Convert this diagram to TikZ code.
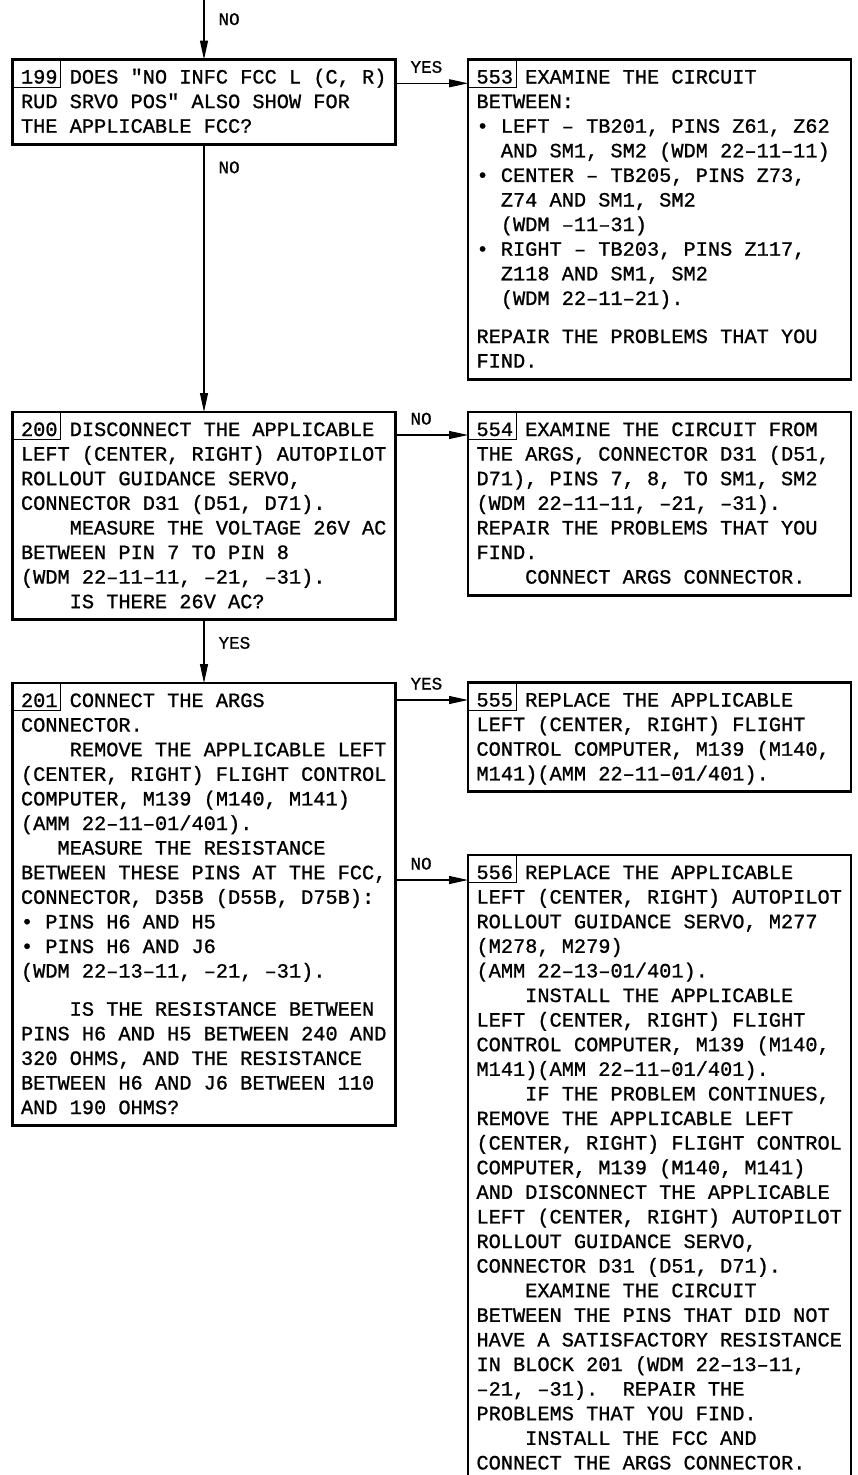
\documentclass[tikz,border=0pt]{standalone}
\usepackage{fontspec}
\newfontfamily\chartfont[FakeBold=1]{Liberation Mono}
\usetikzlibrary{arrows.meta}
% indents, in character cells of the mono font
\newcommand{\tb}{\hspace*{2.4em}}
\newcommand{\tbb}{\hspace*{1.8em}}
\newcommand{\bi}{\hspace*{1.2em}}
% one full cell for every word space
\newcommand{\cellspace}{\spaceskip=0.6em\relax\xspaceskip=0.6em\relax}

\begin{document}
\begin{tikzpicture}[
    x=1pt,
    y=-1pt,
    font=\chartfont\fontsize{20.3pt}{24.6pt}\selectfont\frenchspacing,
    block/.style={draw, line width=2.8pt, anchor=north west, outer sep=0pt, align=left, text width=366pt, inner xsep=8.5pt, inner ysep=0pt,
      execute at begin node={\cellspace\rule{0pt}{24pt}}, execute at end node={\rule[-11.5pt]{0pt}{11.5pt}}},
    numframe/.style={draw, line width=0.9pt, anchor=north west, outer sep=0pt, inner sep=0pt, minimum width=48pt, minimum height=27.5pt},
    flow/.style={-{Triangle[length=19pt,width=8pt]}, line width=1.1pt},
    lbl/.style={font=\chartfont\fontsize{17.6pt}{20pt}\selectfont, inner sep=0pt, anchor=base west},
    hlbl/.style={lbl, xshift=14.5pt, yshift=10.5pt},
    vlbl/.style={lbl, xshift=14pt, yshift=-29pt}
  ]
    \clip (0,0) rectangle (858,1475);

    \node[block] (b199) at (12.5,59.5) {199 DOES "NO INFC FCC L (C, R)\\
      RUD SRVO POS" ALSO SHOW FOR\\
      THE APPLICABLE FCC?};
    \node[block] (b553) at (468,59.5) {553 EXAMINE THE CIRCUIT\\
      BETWEEN:\\
      • LEFT – TB201, PINS Z61, Z62\\
      \bi AND SM1, SM2 (WDM 22–11–11)\\
      • CENTER – TB205, PINS Z73,\\
      \bi Z74 AND SM1, SM2\\
      \bi (WDM –11–31)\\
      • RIGHT – TB203, PINS Z117,\\
      \bi Z118 AND SM1, SM2\\
      \bi (WDM 22–11–21).\\[13.5pt]
      REPAIR THE PROBLEMS THAT YOU\\
      FIND.};

    \node[block] (b200) at (12.5,412) {200 DISCONNECT THE APPLICABLE\\
      LEFT (CENTER, RIGHT) AUTOPILOT\\
      ROLLOUT GUIDANCE SERVO,\\
      CONNECTOR D31 (D51, D71).\\
      \tb MEASURE THE VOLTAGE 26V AC\\
      BETWEEN PIN 7 TO PIN 8\\
      (WDM 22–11–11, –21, –31).\\
      \tb IS THERE 26V AC?};
    \node[block] (b554) at (468,412) {554 EXAMINE THE CIRCUIT FROM\\
      THE ARGS, CONNECTOR D31 (D51,\\
      D71), PINS 7, 8, TO SM1, SM2\\
      (WDM 22–11–11, –21, –31).\\
      REPAIR THE PROBLEMS THAT YOU\\
      FIND.\\
      \tb CONNECT ARGS CONNECTOR.};

    \node[block] (b201) at (12.5,683) {201 CONNECT THE ARGS\\
      CONNECTOR.\\
      \tb REMOVE THE APPLICABLE LEFT\\
      (CENTER, RIGHT) FLIGHT CONTROL\\
      COMPUTER, M139 (M140, M141)\\
      (AMM 22–11–01/401).\\
      \tbb MEASURE THE RESISTANCE\\
      BETWEEN THESE PINS AT THE FCC,\\
      CONNECTOR, D35B (D55B, D75B):\\
      • PINS H6 AND H5\\
      • PINS H6 AND J6\\
      (WDM 22–13–11, –21, –31).\\[13.5pt]
      \tb IS THE RESISTANCE BETWEEN\\
      PINS H6 AND H5 BETWEEN 240 AND\\
      320 OHMS, AND THE RESISTANCE\\
      BETWEEN H6 AND J6 BETWEEN 110\\
      AND 190 OHMS?};
    \node[block] (b555) at (468,682.5) {555 REPLACE THE APPLICABLE\\
      LEFT (CENTER, RIGHT) FLIGHT\\
      CONTROL COMPUTER, M139 (M140,\\
      M141)(AMM 22–11–01/401).};
    \node[block] (b556) at (468,855) {556 REPLACE THE APPLICABLE\\
      LEFT (CENTER, RIGHT) AUTOPILOT\\
      ROLLOUT GUIDANCE SERVO, M277\\
      (M278, M279)\\
      (AMM 22–13–01/401).\\
      \tb INSTALL THE APPLICABLE\\
      LEFT (CENTER, RIGHT) FLIGHT\\
      CONTROL COMPUTER, M139 (M140,\\
      M141)(AMM 22–11–01/401).\\
      \tb IF THE PROBLEM CONTINUES,\\
      REMOVE THE APPLICABLE LEFT\\
      (CENTER, RIGHT) FLIGHT CONTROL\\
      COMPUTER, M139 (M140, M141)\\
      AND DISCONNECT THE APPLICABLE\\
      LEFT (CENTER, RIGHT) AUTOPILOT\\
      ROLLOUT GUIDANCE SERVO,\\
      CONNECTOR D31 (D51, D71).\\
      \tb EXAMINE THE CIRCUIT\\
      BETWEEN THE PINS THAT DID NOT\\
      HAVE A SATISFACTORY RESISTANCE\\
      IN BLOCK 201 (WDM 22–13–11,\\
      –21, –31).\ \ REPAIR THE\\
      PROBLEMS THAT YOU FIND.\\
      \tb INSTALL THE FCC AND\\
      CONNECT THE ARGS CONNECTOR.};

    % frames round the block numbers
    \foreach \b in {199,553,200,554,201,555,556}
      \node[numframe] (n\b) at (b\b.north west) {};

    \coordinate (entry) at (204,-4);
    \coordinate (y553) at (0,83.3);
    \coordinate (y554) at (0,435);
    \coordinate (y555) at (0,700);
    \coordinate (y556) at (0,880);

    \draw[flow] (entry) -- node[vlbl,pos=0]{NO} (b199);
    \draw[flow] (b199) -- node[vlbl,pos=0]{NO} (b200);
    \draw[flow] (b200) -- node[vlbl,pos=0]{YES} (b201);

    \draw[flow] (b199.east |- y553) -- node[hlbl,pos=0]{YES} (b553.west |- y553);
    \draw[flow] (b200.east |- y554) -- node[hlbl,pos=0]{NO} (b554.west |- y554);
    \draw[flow] (b201.east |- y555) -- node[hlbl,pos=0]{YES} (b555.west |- y555);
    \draw[flow] (b201.east |- y556) -- node[hlbl,pos=0]{NO} (b556.west |- y556);
  \end{tikzpicture}
\end{document}
